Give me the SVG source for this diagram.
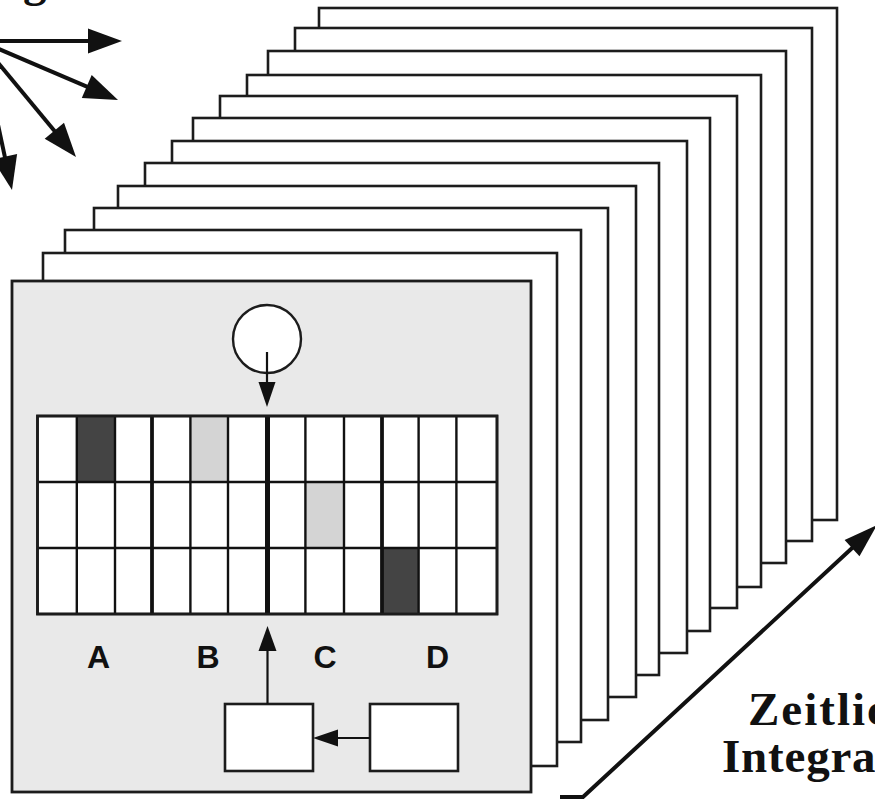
<svg xmlns="http://www.w3.org/2000/svg" width="875" height="801" viewBox="0 0 875 801">
<style>
.fr{fill:#ffffff;stroke:#1c1c1c;stroke-width:2.6}
.panel{fill:#e9e9e9;stroke:#1c1c1c;stroke-width:2.8}
.cell{stroke:#1c1c1c;stroke-width:2.4}
.w{fill:#ffffff}
.dk{fill:#444444}
.lt{fill:#d4d4d4}
.gl{stroke:#111111;fill:none}
.box{fill:#ffffff;stroke:#1c1c1c;stroke-width:2.6}
.lbl{font-family:"Liberation Sans",Arial,sans-serif;font-weight:bold;font-size:32px;fill:#111111;text-anchor:middle}
.ser{font-family:"Liberation Serif","Times New Roman",serif;font-weight:bold;font-size:47px;fill:#111111}
.ln{stroke:#111111;fill:none}
.hd{fill:#111111}
</style>
<rect width="875" height="801" fill="#ffffff"/>
<g id="title-fragment"><text class="ser" x="23" y="-4">g</text></g>
<g id="stack">
<rect class="fr" x="319" y="8" width="518" height="512"/>
<rect class="fr" x="295" y="28" width="517" height="513"/>
<rect class="fr" x="268" y="51" width="518" height="512"/>
<rect class="fr" x="247" y="75" width="514" height="512"/>
<rect class="fr" x="220" y="96" width="517" height="512"/>
<rect class="fr" x="193" y="118" width="517" height="513"/>
<rect class="fr" x="172" y="141" width="515" height="512"/>
<rect class="fr" x="145" y="163" width="514" height="512"/>
<rect class="fr" x="118" y="186" width="518" height="511"/>
<rect class="fr" x="94" y="208" width="514" height="512"/>
<rect class="fr" x="65" y="230" width="516" height="512"/>
<rect class="fr" x="43" y="253" width="514" height="513"/>
</g>
<g id="front-panel"><rect class="panel" x="12" y="281" width="519" height="511"/></g>
<g id="source-circle"><circle cx="267" cy="339" r="34" fill="#ffffff" stroke="#1c1c1c" stroke-width="2.4"/></g>
<g id="grid">
<rect class="cell w" x="37.5" y="416" width="459.5" height="198"/>
<rect class="dk" x="76.8" y="416" width="38.2" height="66"/>
<rect class="lt" x="190.4" y="416" width="37.6" height="66"/>
<rect class="lt" x="305.4" y="482" width="38.6" height="66"/>
<rect class="dk" x="382" y="548" width="36.6" height="66"/>
<g class="gl" stroke-width="2.4">
<line x1="37.5" y1="482" x2="497" y2="482"/>
<line x1="37.5" y1="548" x2="497" y2="548"/>
<line x1="76.8" y1="416" x2="76.8" y2="614"/>
<line x1="115" y1="416" x2="115" y2="614"/>
<line x1="190.4" y1="416" x2="190.4" y2="614"/>
<line x1="228" y1="416" x2="228" y2="614"/>
<line x1="305.4" y1="416" x2="305.4" y2="614"/>
<line x1="344" y1="416" x2="344" y2="614"/>
<line x1="418.6" y1="416" x2="418.6" y2="614"/>
<line x1="456.4" y1="416" x2="456.4" y2="614"/>
</g>
<g class="gl" stroke-width="3.8">
<line x1="152" y1="416" x2="152" y2="614"/>
<line x1="382" y1="416" x2="382" y2="614"/>
</g>
<line class="gl" stroke-width="5" x1="267.5" y1="416" x2="267.5" y2="614"/>
<rect x="37.5" y="416" width="459.5" height="198" fill="none" stroke="#1c1c1c" stroke-width="2.8"/>
</g>
<g id="labels">
<text class="lbl" x="98.5" y="668">A</text>
<text class="lbl" x="208" y="668">B</text>
<text class="lbl" x="325" y="668">C</text>
<text class="lbl" x="437.5" y="668">D</text>
</g>
<g id="box-left"><rect class="box" x="225" y="704" width="88" height="67"/></g>
<g id="box-right"><rect class="box" x="370" y="704" width="88" height="67"/></g>
<g id="axis-label">
<text class="ser" x="748" y="725" letter-spacing="2">Zeitlic</text>
<text class="ser" x="722" y="772" letter-spacing="0.8">Integra</text>
</g>
<g id="connectors">
<line class="ln" stroke-width="2.2" x1="267" y1="352" x2="267" y2="384"/>
<polygon class="hd" points="267,407 258.5,382 275.5,382"/>
<line class="ln" stroke-width="2.2" x1="267.5" y1="704" x2="267.5" y2="649"/>
<polygon class="hd" points="267.5,626 258.5,651 276.5,651"/>
<line class="ln" stroke-width="2.2" x1="370" y1="738" x2="336" y2="738"/>
<polygon class="hd" points="313,738 338,729.5 338,746.5"/>
<line class="ln" stroke-width="4" x1="-20" y1="41" x2="90" y2="41"/>
<polygon class="hd" points="122,41 88,28.5 88,53.5"/>
<line class="ln" stroke-width="4" x1="-20" y1="41" x2="88.6" y2="87.4"/>
<polygon class="hd" points="118,100 81.8,98.1 91.7,75.1"/>
<line class="ln" stroke-width="4" x1="-20" y1="41" x2="55.6" y2="132.3"/>
<polygon class="hd" points="76,157 44.7,138.8 64,122.8"/>
<line class="ln" stroke-width="4" x1="-20" y1="41" x2="5.3" y2="158.8"/>
<polygon class="hd" points="12,190 -7.4,159.4 17.1,154.1"/>
<polyline class="ln" stroke-width="4" points="560,797 583,797 853.5,546.7"/>
<polygon class="hd" points="877,525 859.5,556.2 844.6,540"/>
</g>
</svg>
